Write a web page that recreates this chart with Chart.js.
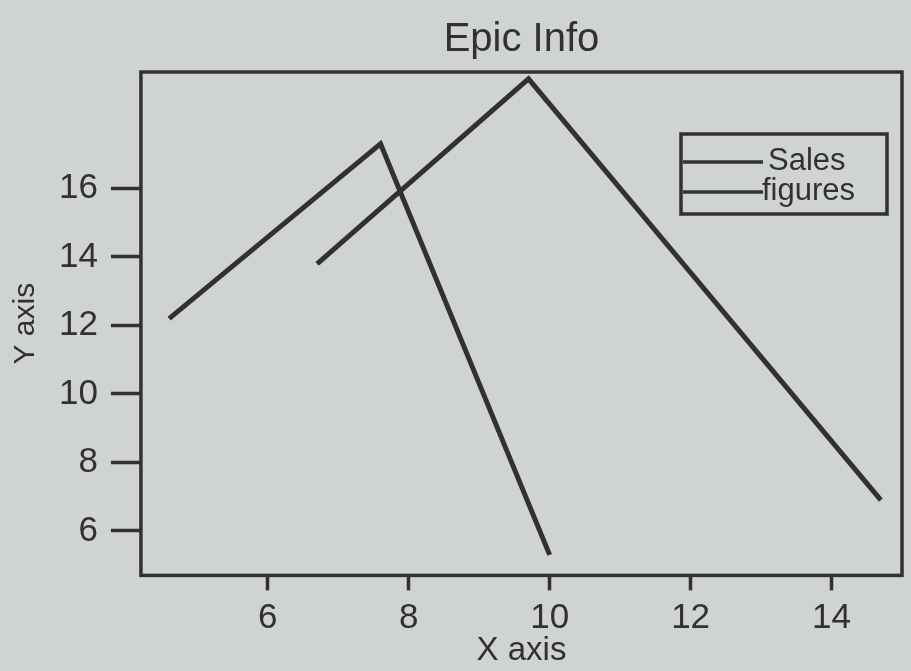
<!DOCTYPE html>
<html>
<head>
<meta charset="utf-8">
<script src="https://cdn.jsdelivr.net/npm/chart.js@4"></script>
<style>
  html, body { margin: 0; padding: 0; background: #d0d4d1; }
  #wrap { width: 911px; height: 671px; }
</style>
</head>
<body>
<div id="wrap"><canvas id="chart" width="911" height="671"></canvas></div>
<script>
// Data
const seriesNames = ["Sales", "figures"];
const salesX = [4.6, 7.6, 10.0];
const salesY = [12.2, 17.3, 5.3];
const figuresX = [6.7, 9.7, 14.7];
const figuresY = [13.8, 19.2, 6.9];
const xTicks = [6, 8, 10, 12, 14];
const yTicks = [6, 8, 10, 12, 14, 16];

const INK = "#34302f";
const FONT = "'Liberation Sans', Arial, sans-serif";

function toPoints(xs, ys) {
    return xs.map((x, i) => ({ x: x, y: ys[i] }));
}

// frame around the plot + legend box in the upper right
const framePlugin = {
    id: "frame",
    afterDraw(chart) {
        const { ctx, chartArea: a } = chart;
        ctx.save();
        ctx.strokeStyle = INK;
        ctx.lineWidth = 3.5;
        ctx.strokeRect(a.left, a.top, a.right - a.left, a.bottom - a.top);

        // legend
        const bx = 681, by = 134, bw = 206, bh = 80;
        ctx.strokeRect(bx, by, bw, bh);
        ctx.font = "31px " + FONT;
        ctx.fillStyle = INK;
        ctx.textBaseline = "alphabetic";
        chart.data.datasets.forEach((ds, i) => {
            const ly = by + 28 + i * 30;
            ctx.beginPath();
            ctx.lineWidth = 3.5;
            ctx.moveTo(bx + 2, ly);
            ctx.lineTo(bx + 82, ly);
            ctx.stroke();
            ctx.fillText(ds.label, bx + 81 + (i === 0 ? 6 : 0), ly + 8);
        });
        ctx.restore();
    }
};

const datasets = [
    { label: seriesNames[0], data: toPoints(salesX, salesY) },
    { label: seriesNames[1], data: toPoints(figuresX, figuresY) }
].map(ds => Object.assign(ds, {
    borderColor: INK,
    borderWidth: 5,
    pointRadius: 0,
    fill: false,
    tension: 0
}));

new Chart(document.getElementById("chart"), {
    type: "line",
    data: { datasets: datasets },
    options: {
        responsive: false,
        animation: false,
        layout: { padding: { left: 8, right: 9, top: 0, bottom: 0 } },
        plugins: {
            legend: { display: false },
            tooltip: { enabled: false },
            title: {
                display: true,
                fullSize: false,
                text: "Epic Info",
                color: INK,
                font: { family: FONT, size: 40, weight: "normal" },
                padding: { top: 16, bottom: 8 }
            }
        },
        scales: {
            x: {
                type: "linear",
                min: 4.2,
                max: 15,
                afterBuildTicks: s => { s.ticks = xTicks.map(v => ({ value: v })); },
                grid: {
                    drawOnChartArea: false,
                    drawTicks: true,
                    tickLength: 15,
                    tickWidth: 3.5,
                    color: INK
                },
                border: { display: false },
                ticks: {
                    color: INK,
                    padding: 7,
                    maxRotation: 0,
                    font: { family: FONT, size: 35 }
                },
                title: {
                    display: true,
                    text: "X axis",
                    color: INK,
                    font: { family: FONT, size: 33 },
                    padding: { top: -15, bottom: 0 }
                }
            },
            y: {
                type: "linear",
                min: 4.7,
                max: 19.4,
                afterBuildTicks: s => { s.ticks = yTicks.map(v => ({ value: v })); },
                grid: {
                    drawOnChartArea: false,
                    drawTicks: true,
                    tickLength: 30,
                    tickWidth: 3.5,
                    color: INK
                },
                border: { display: false },
                ticks: {
                    color: INK,
                    padding: 13,
                    font: { family: FONT, size: 35 }
                },
                title: {
                    display: true,
                    text: "Y axis",
                    color: INK,
                    font: { family: FONT, size: 30 },
                    padding: { top: 0, bottom: 2 }
                }
            }
        }
    },
    plugins: [framePlugin]
});
</script>
</body>
</html>
